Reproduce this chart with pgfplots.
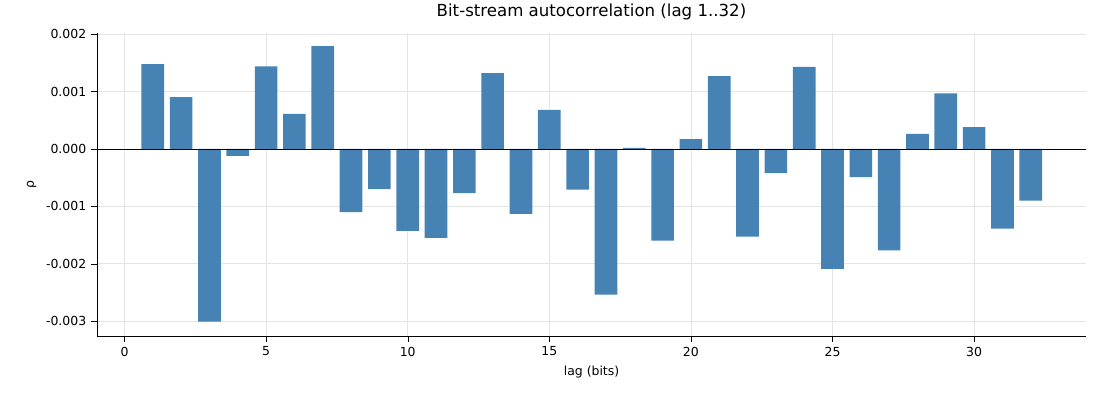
\documentclass[border=0pt]{standalone}
\usepackage{pgfplots}
\pgfplotsset{compat=1.18}
\usepackage{fontspec}
\setmainfont{DejaVu Sans}
\definecolor{bar}{HTML}{4682B4}
\begin{document}
\begin{tikzpicture}
\useasboundingbox (-0.97in,-0.64in) rectangle (10.03in,3.36in);
\begin{axis}[
  at={(0,0)}, anchor=south west,
  width=9.89in, height=3.03in, scale only axis,
  xmin=-0.97, xmax=33.95, ymin=-0.00326, ymax=0.00202,
  axis lines*=left,
  xtick={0,5,...,30}, ytick={-0.003,-0.002,-0.001,0,0.001,0.002},
  scaled y ticks=false,
  /pgf/number format/assume math mode=true,
  yticklabel style={/pgf/number format/.cd,fixed,fixed zerofill,precision=3},
  yticklabel={\pgfmathprintnumber[fixed,fixed zerofill,precision=3]{\tick}},
  tick label style={font=\small},
  grid=major, grid style={gray!20},
  tick align=outside, tick style={black},
  xlabel={lag (bits)}, ylabel={ρ},
  label style={font=\small},
  title={Bit-stream autocorrelation (lag 1..32)},
  title style={font=\large},
]
\addplot[ybar, bar width=0.8, fill=bar, draw=none] coordinates {
(1,0.001478)(2,0.000904)(3,-0.00301)(4,-0.00012)(5,0.00144)(6,0.00061)(7,0.00179)(8,-0.00110)
(9,-0.00070)(10,-0.00143)(11,-0.00155)(12,-0.00077)(13,0.00132)(14,-0.00113)(15,0.00068)(16,-0.00071)
(17,-0.00254)(18,0.00002)(19,-0.00160)(20,0.00017)(21,0.00127)(22,-0.00153)(23,-0.00042)(24,0.00143)
(25,-0.00209)(26,-0.00049)(27,-0.00177)(28,0.00026)(29,0.00097)(30,0.00038)(31,-0.00139)(32,-0.00090)};
\draw[black, line width=0.6pt] (axis cs:-0.97,0) -- (axis cs:33.95,0);
\end{axis}
\end{tikzpicture}
\end{document}
